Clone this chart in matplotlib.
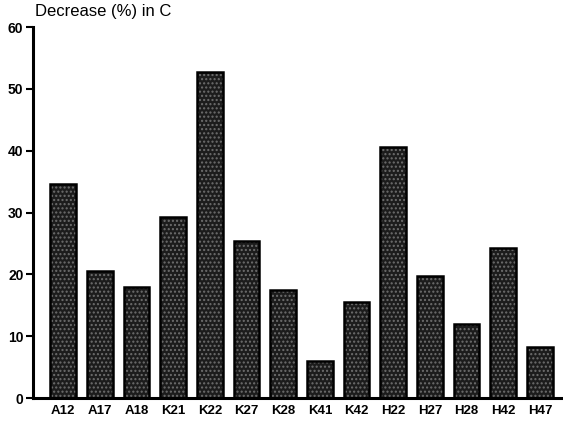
import numpy as np
import matplotlib
matplotlib.use("Agg")
import matplotlib.pyplot as plt

plt.rcParams['font.family'] = ['Liberation Sans', 'DejaVu Sans']

strains = ['A12', 'A17', 'A18', 'K21', 'K22', 'K27', 'K28',
           'K41', 'K42', 'H22', 'H27', 'H28', 'H42', 'H47']
decrease = [34.6, 20.6, 18.0, 29.3, 52.8, 25.4, 17.5,
            6.0, 15.5, 40.6, 19.7, 12.0, 24.3, 8.3]

fig = plt.figure(figsize=(5.63, 4.24), dpi=100)
ax = fig.add_axes([0.059, 0.061, 0.939, 0.875])

x = np.arange(len(strains))
# stippled fill, then a black outline on top
ax.bar(x, decrease, width=0.7, color='#1c1c1c', edgecolor='#6e6e6e',
       hatch='....', linewidth=0)
ax.bar(x, decrease, width=0.7, fill=False, edgecolor='black', linewidth=1.8)

ax.set_xlim(-0.82, 13.6)
ax.set_ylim(0, 60)
ax.set_yticks(range(0, 61, 10))
ax.set_xticks(x)
ax.set_xticklabels(strains, fontweight='bold', fontsize=9.5)
for lab in ax.get_yticklabels():
    lab.set_fontweight('bold')
    lab.set_fontsize(10)

ax.tick_params(axis='x', length=0, pad=5)
ax.tick_params(axis='y', length=5, width=1.5, direction='out', pad=2)
ax.spines['top'].set_visible(False)
ax.spines['right'].set_visible(False)
ax.spines['left'].set_linewidth(2.2)
ax.spines['bottom'].set_linewidth(2.2)

fig.text(0.062, 0.99, 'Decrease (%) in C', fontsize=12, va='top', ha='left')

fig.savefig('out.png', dpi=100)
